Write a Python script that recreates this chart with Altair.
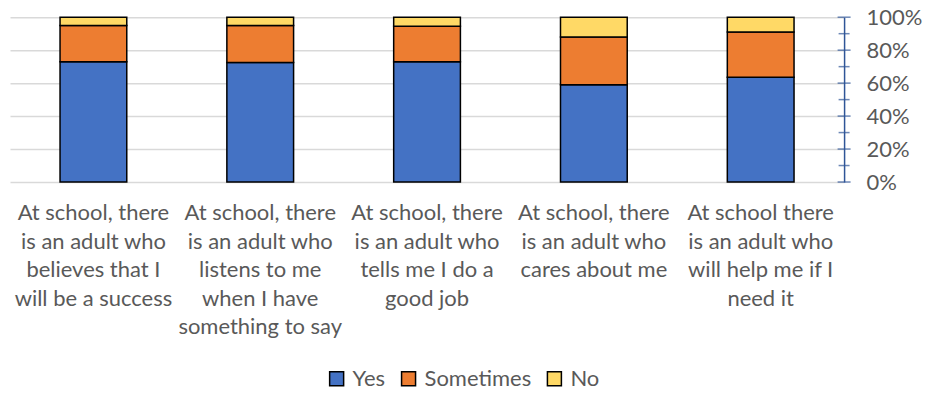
import altair as alt
import pandas as pd

categories = [
    "At school, there\nis an adult who\nbelieves that I\nwill be a success",
    "At school, there\nis an adult who\nlistens to me\nwhen I have\nsomething to say",
    "At school, there\nis an adult who\ntells me I do a\ngood job",
    "At school, there\nis an adult who\ncares about me",
    "At school there\nis an adult who\nwill help me if I\nneed it",
]
series = ["Yes", "Sometimes", "No"]
yes = [73, 72.5, 73, 59, 63.5]
sometimes = [22, 22.5, 21.5, 29, 27.5]
no = [5, 5, 5.5, 12, 9]
colors = ["#4472C4", "#ED7D31", "#FFD966"]
tick_values = [0, 0.1, 0.2, 0.3, 0.4, 0.5, 0.6, 0.7, 0.8, 0.9, 1.0]
label_values = [0, 0.2, 0.4, 0.6, 0.8, 1.0]

rows = []
for i, c in enumerate(categories):
    for j, (s, vals) in enumerate(zip(series, [yes, sometimes, no])):
        rows.append({"cat": c, "series": s, "value": vals[i], "ord": j})
df = pd.DataFrame(rows)
ticks = pd.DataFrame({"v": tick_values, "major": [round(v * 10) % 2 == 0 for v in tick_values]})

FONT = "Lato"
W, H = 835, 165

bars = alt.Chart(df).mark_bar(stroke="black", strokeWidth=1.5).encode(
    x=alt.X("cat:N", sort=categories,
            scale=alt.Scale(paddingInner=0.6, paddingOuter=0.3),
            axis=alt.Axis(title=None, domain=False, ticks=False, labelAngle=0,
                          labelExpr="split(datum.label, '\\n')",
                          labelFont=FONT, labelFontSize=22, labelColor="#595959",
                          labelLineHeight=28.5, labelPadding=21, labelBaseline="top",
                          labelLimit=0)),
    y=alt.Y("value:Q", stack="normalize",
            scale=alt.Scale(domain=[0, 1]),
            axis=alt.Axis(title=None, orient="right", format=".0%", values=label_values,
                          ticks=False, domainColor="#2F5597", domainWidth=1.5,
                          grid=True, gridColor="#D9D9D9", gridWidth=1.5,
                          labelOverlap=False,
                          labelFont=FONT, labelFontSize=22, labelColor="#595959",
                          labelPadding=22)),
    color=alt.Color("series:N", scale=alt.Scale(domain=series, range=colors),
                    legend=alt.Legend(title=None, orient="none", legendX=316, legendY=351,
                                      direction="horizontal", symbolType="square",
                                      symbolSize=196, symbolStrokeColor="black",
                                      symbolStrokeWidth=1.5, labelFont=FONT,
                                      labelFontSize=22, labelColor="#595959",
                                      labelOffset=5, columnPadding=12)),
    order=alt.Order("ord:Q"),
)

tick_layer = alt.Chart(ticks).mark_tick(color="#2F5597", thickness=1.5).encode(
    y=alt.Y("v:Q", scale=alt.Scale(domain=[0, 1]), axis=None),
    x=alt.value(W),
    size=alt.condition("datum.major", alt.value(13), alt.value(11)),
)

chart = alt.layer(bars, tick_layer).resolve_axis(y="independent").properties(
    width=W, height=H,
    autosize=alt.AutoSizeParams(type="none"),
    padding={"left": 2, "top": 9, "right": 80, "bottom": 208},
).configure_view(stroke=None)

chart.save("out.html", embed_options={"renderer": "svg", "actions": False})
